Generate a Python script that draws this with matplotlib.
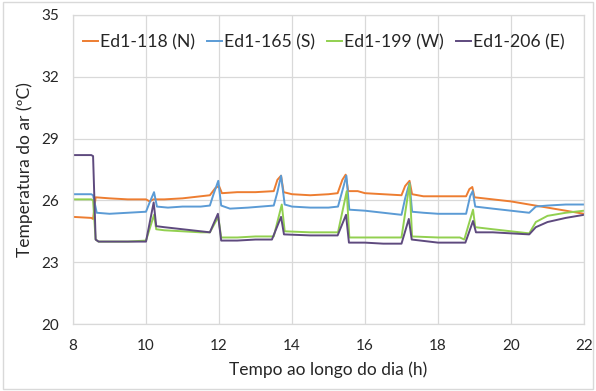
import matplotlib
matplotlib.use("Agg")
import matplotlib.pyplot as plt
from matplotlib.patches import Rectangle

plt.rcParams['font.family'] = ['Lato', 'DejaVu Sans']

# ---- data ----
time_N = [8.0, 8.5, 8.55, 8.62, 9.0, 9.5, 10.0, 10.1, 10.2, 10.5, 11.0, 11.5, 11.75, 11.9, 12.0, 12.08,
          12.5, 13.0, 13.5, 13.6, 13.7, 13.77, 14.0, 14.5, 15.0, 15.25, 15.38, 15.47, 15.54, 15.8, 16.0,
          16.5, 17.0, 17.1, 17.22, 17.29, 17.6, 18.0, 18.5, 18.77, 18.86, 18.94, 19.0, 19.5, 20.0, 20.5,
          21.0, 21.5, 22.0]
temp_N = [25.2, 25.15, 25.1, 26.15, 26.1, 26.05, 26.05, 25.95, 26.05, 26.05, 26.1, 26.2, 26.25, 26.6, 26.7, 26.35,
          26.4, 26.4, 26.45, 27.0, 27.2, 26.4, 26.3, 26.25, 26.3, 26.35, 27.0, 27.25, 26.45, 26.45, 26.35,
          26.3, 26.25, 26.7, 26.95, 26.3, 26.2, 26.2, 26.2, 26.2, 26.55, 26.65, 26.15, 26.05, 25.95, 25.8,
          25.65, 25.5, 25.35]

time_S = [8.0, 8.5, 8.55, 8.65, 9.0, 9.5, 10.0, 10.1, 10.22, 10.3, 10.6, 11.0, 11.5, 11.75, 11.85, 11.98, 12.06,
          12.3, 12.8, 13.5, 13.6, 13.7, 13.8, 14.0, 14.5, 15.0, 15.26, 15.4, 15.49, 15.57, 16.0, 16.5, 17.0,
          17.1, 17.22, 17.29, 17.6, 18.0, 18.77, 18.88, 18.95, 19.02, 19.5, 20.0, 20.5, 20.68, 21.0, 21.5, 22.0]
temp_S = [26.3, 26.3, 26.25, 25.4, 25.35, 25.4, 25.45, 25.9, 26.4, 25.7, 25.65, 25.7, 25.7, 25.75, 26.3, 26.95, 25.75,
          25.6, 25.65, 25.75, 26.4, 27.2, 25.8, 25.7, 25.65, 25.65, 25.7, 26.6, 27.2, 25.55, 25.5, 25.4, 25.3,
          26.1, 26.85, 25.45, 25.4, 25.35, 25.35, 26.2, 26.45, 25.7, 25.6, 25.5, 25.4, 25.7, 25.75, 25.8, 25.8]

time_W = [8.0, 8.5, 8.55, 8.62, 8.7, 9.5, 10.0, 10.22, 10.28, 10.5, 11.0, 11.5, 11.75, 11.98, 12.06,
          12.5, 13.0, 13.5, 13.72, 13.8, 14.5, 15.26, 15.5, 15.57, 16.0, 17.0, 17.22, 17.29, 18.0, 18.6,
          18.72, 18.96, 19.02, 19.5, 20.0, 20.5, 20.68, 21.0, 21.5, 22.0]
temp_W = [26.05, 26.05, 26.0, 24.1, 24.0, 24.0, 24.05, 25.3, 24.6, 24.55, 24.5, 24.45, 24.45, 25.2, 24.2,
          24.2, 24.25, 24.25, 25.8, 24.5, 24.45, 24.45, 26.45, 24.2, 24.2, 24.2, 26.8, 24.25, 24.2, 24.2,
          24.1, 25.55, 24.7, 24.6, 24.5, 24.4, 24.95, 25.25, 25.4, 25.5]

time_E = [8.0, 8.5, 8.55, 8.62, 8.7, 9.5, 10.0, 10.21, 10.28, 10.5, 11.0, 11.5, 11.75, 11.97, 12.06,
          12.5, 13.0, 13.45, 13.7, 13.78, 14.5, 15.25, 15.48, 15.56, 16.0, 16.5, 17.0, 17.2, 17.28, 18.0,
          18.75, 18.96, 19.04, 19.5, 20.0, 20.5, 20.68, 21.0, 21.5, 22.0]
temp_E = [28.2, 28.2, 28.15, 24.1, 24.0, 24.0, 24.0, 25.9, 24.75, 24.7, 24.6, 24.5, 24.45, 25.35, 24.05,
          24.05, 24.1, 24.1, 25.2, 24.35, 24.3, 24.3, 25.3, 23.95, 23.95, 23.9, 23.9, 25.1, 24.1, 23.95,
          23.95, 25.0, 24.45, 24.45, 24.4, 24.35, 24.7, 24.95, 25.15, 25.3]

series_labels = ['Ed1-118 (N)', 'Ed1-165 (S)', 'Ed1-199 (W)', 'Ed1-206 (E)']
x_ticks = [8, 10, 12, 14, 16, 18, 20, 22]
y_ticks = [20, 23, 26, 29, 32, 35]

colors = ['#ED7D31', '#5B9BD5', '#92D050', '#5E4A7E']

fig = plt.figure(figsize=(5.96, 3.91), dpi=100)
ax = fig.add_axes([73/596, 1-324/391, (584-73)/596, (324-15)/391])

for t, v, c, lab in zip([time_N, time_S, time_W, time_E], [temp_N, temp_S, temp_W, temp_E], colors, series_labels):
    ax.plot(t, v, color=c, lw=1.4, label=lab)

ax.set_xlim(8, 22)
ax.set_ylim(20, 35)
ax.set_xticks(x_ticks)
ax.set_yticks(y_ticks)
ax.grid(True, color='#d9d9d9', lw=0.9)
ax.set_axisbelow(True)
for s in ax.spines.values():
    s.set_color('#d9d9d9')
    s.set_linewidth(0.9)
ax.tick_params(length=0, labelsize=11, colors='#262626')
ax.tick_params(axis='x', pad=11)
ax.tick_params(axis='y', pad=10)
ax.set_xlabel('Tempo ao longo do dia (h)', fontsize=12.5, color='#262626', labelpad=6)
ax.set_ylabel('Temperatura do ar (ºC)', fontsize=12.5, color='#262626', labelpad=6)

leg = ax.legend(loc='center', bbox_to_anchor=(0.491, 0.913), ncol=4, frameon=False,
                fontsize=12.7, handlelength=0.85, handletextpad=0.1, columnspacing=0.7,
                labelcolor='#262626')

fig.patches.append(Rectangle((0.005, 0.005), 0.99, 0.99, transform=fig.transFigure,
                             fill=False, edgecolor='#d9d9d9', lw=1.0))

fig.savefig('out.png', dpi=100)
